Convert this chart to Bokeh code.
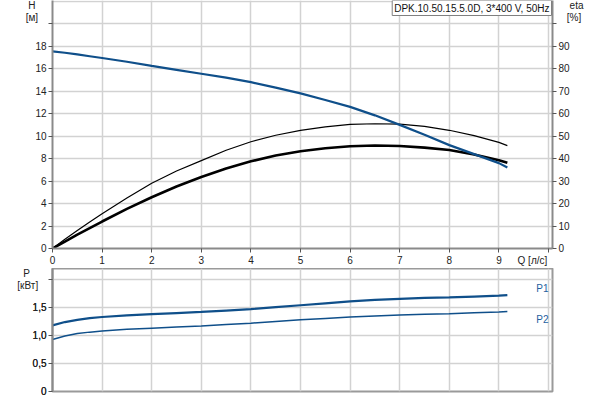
from bokeh.plotting import figure
from bokeh.models import Range1d, LinearAxis, FixedTicker, Label, ColumnDataSource
from bokeh.layouts import column
from bokeh.embed import file_html
from bokeh.resources import INLINE

# ---- data ----
q = [0, 0.25, 0.5, 0.75, 1, 1.5, 2, 2.5, 3, 3.5, 4, 4.5, 5, 5.5, 6, 6.5, 7, 7.5, 8, 8.5, 9, 9.17]
head = [17.55, 17.42, 17.27, 17.11, 16.95, 16.62, 16.25, 15.9, 15.55, 15.2, 14.8, 14.32,
        13.8, 13.22, 12.6, 11.85, 11.0, 10.12, 9.2, 8.4, 7.6, 7.2]
eta_thin = [0, 4.1, 8, 11.8, 15.5, 22.5, 29, 34.5, 39.1, 43.7, 47.5, 50.4, 52.6, 54.1,
            55.2, 55.5, 55.3, 54.3, 52.6, 50.2, 47.2, 45.8]
eta_thick = [0, 3.1, 6.2, 9.1, 12, 17.6, 22.8, 27.6, 31.8, 35.6, 38.8, 41.4, 43.3, 44.6,
             45.5, 45.8, 45.6, 44.9, 43.8, 41.8, 39.3, 38.2]
p1_kw = [1.18, 1.24, 1.28, 1.31, 1.33, 1.36, 1.38, 1.40, 1.42, 1.445, 1.47, 1.505, 1.54,
         1.575, 1.61, 1.635, 1.655, 1.67, 1.68, 1.695, 1.71, 1.72]
p2_kw = [0.93, 0.99, 1.035, 1.06, 1.08, 1.11, 1.13, 1.15, 1.17, 1.195, 1.22, 1.25, 1.28,
         1.305, 1.33, 1.35, 1.365, 1.38, 1.39, 1.405, 1.42, 1.43]

h_ticks = [0, 2, 4, 6, 8, 10, 12, 14, 16, 18]
h_marks = [0, 2, 4, 6, 8, 10, 12, 14, 16, 18, 20]
h_grid = [0, 2, 4, 6, 8, 10, 12, 14, 16, 18, 20, 22]
eta_ticks = [0, 10, 20, 30, 40, 50, 60, 70, 80, 90]
eta_marks = [0, 10, 20, 30, 40, 50, 60, 70, 80, 90, 100]
q_ticks = [0, 1, 2, 3, 4, 5, 6, 7, 8, 9]
q_grid = [0, 1, 2, 3, 4, 5, 6, 7, 8, 9, 10]
p_ticks = [0, 0.5, 1.0, 1.5]
p_marks = [0, 0.5, 1.0, 1.5, 2.0]
p_grid = [0.5, 1.0, 1.5, 2.0]
p_tick_labels = {0: "0", 0.5: "0,5", 1: "1,0", 1.5: "1,5"}
title_text = "DPK.10.50.15.5.0D, 3*400 V, 50Hz"

# axis titles (units), written as extra axis labels
NB = "\u00a0"
h_title = {21.63: "H" + NB * 4, 20.52: "[м]" + NB * 3}
eta_title = {108.15: NB * 4 + "eta", 102.6: NB * 3 + "[%]"}
q_title = {9.675: "Q [л/с]"}
p_title = {2.107: "P" + NB * 6, 1.884: "[кВт]" + NB * 3}

FONT = "Liberation Sans"
BLUE = "#0f4f8a"
GRID = "#d2d2d2"
AX = "#8a8a8a"
TXT = "#222222"

src = ColumnDataSource(dict(q=q, h=head, et=eta_thin, ek=eta_thick, p1=p1_kw, p2=p2_kw))

xr = Range1d(0, 10.08)


def style_axis(ax, ticks, marks, labels):
    ax.ticker = FixedTicker(ticks=ticks + list(labels.keys()), minor_ticks=marks)
    ax.major_label_overrides = labels
    ax.axis_line_color = AX
    ax.axis_line_width = 2
    ax.major_tick_line_color = None
    ax.major_tick_out = 4
    ax.major_tick_in = 0
    ax.minor_tick_line_color = "#555555"
    ax.minor_tick_out = 4
    ax.minor_tick_in = 0
    ax.major_label_text_font = FONT
    ax.major_label_text_font_size = "10px"
    ax.major_label_text_color = TXT
    ax.major_label_standoff = 2


# ---------------- top plot ----------------
p = figure(width=600, height=268, output_backend="svg", toolbar_location=None,
           x_range=xr, y_range=Range1d(0, 22.07))
p.min_border = 0
p.min_border_left = 52
p.min_border_right = 48
p.min_border_top = 0
p.min_border_bottom = 19
p.outline_line_color = None
p.background_fill_color = "white"
p.border_fill_color = "white"
p.extra_y_ranges = {"eta": Range1d(0, 110.35)}

style_axis(p.yaxis[0], h_ticks, h_marks, dict(h_title))
style_axis(p.xaxis[0], q_ticks, q_grid, dict(q_title))

eta_axis = LinearAxis(y_range_name="eta")
style_axis(eta_axis, eta_ticks, eta_marks, dict(eta_title))
p.add_layout(eta_axis, "right")

p.xgrid.ticker = FixedTicker(ticks=q_grid)
p.ygrid.ticker = FixedTicker(ticks=h_grid)
for g in (p.xgrid[0], p.ygrid[0]):
    g.grid_line_color = GRID
    g.grid_line_width = 1.5

p.line("q", "et", source=src, y_range_name="eta", line_color="black", line_width=1.2)
p.line("q", "ek", source=src, y_range_name="eta", line_color="black", line_width=2.6)
p.line("q", "h", source=src, line_color=BLUE, line_width=2.2)

p.add_layout(Label(x=10.06, y=22.07, text=title_text, text_align="right",
                   text_baseline="top", text_font=FONT, text_font_size="10px",
                   text_color="#111111", border_line_color="#808080",
                   border_line_width=1, background_fill_color="white", padding=2))

# ---------------- bottom plot ----------------
p2 = figure(width=600, height=132, output_backend="svg", toolbar_location=None,
            x_range=xr, y_range=Range1d(0, 2.196))
p2.min_border = 0
p2.min_border_left = 52
p2.min_border_right = 48
p2.min_border_top = 0
p2.min_border_bottom = 9
p2.outline_line_color = "#9a9a9a"
p2.outline_line_width = 2
p2.background_fill_color = "white"
p2.border_fill_color = "white"
p2.xaxis.visible = False
p_labels = dict(p_tick_labels)
p_labels.update(p_title)
style_axis(p2.yaxis[0], p_ticks, p_marks, p_labels)
p2.xgrid.ticker = FixedTicker(ticks=q_grid)
p2.ygrid.ticker = FixedTicker(ticks=p_grid)
for g in (p2.xgrid[0], p2.ygrid[0]):
    g.grid_line_color = GRID
    g.grid_line_width = 1.5

p2.line("q", "p1", source=src, line_color=BLUE, line_width=2.2)
p2.line("q", "p2", source=src, line_color=BLUE, line_width=1.5)

for yv, t in ((1.84, "P1"), (1.29, "P2")):
    p2.add_layout(Label(x=10.0, y=yv, text=t, text_align="right", text_baseline="middle",
                        text_font=FONT, text_font_size="10px", text_color="#1f5fa0"))

layout = column(p, p2, spacing=0)
open("out.html", "w").write(file_html(layout, INLINE))
